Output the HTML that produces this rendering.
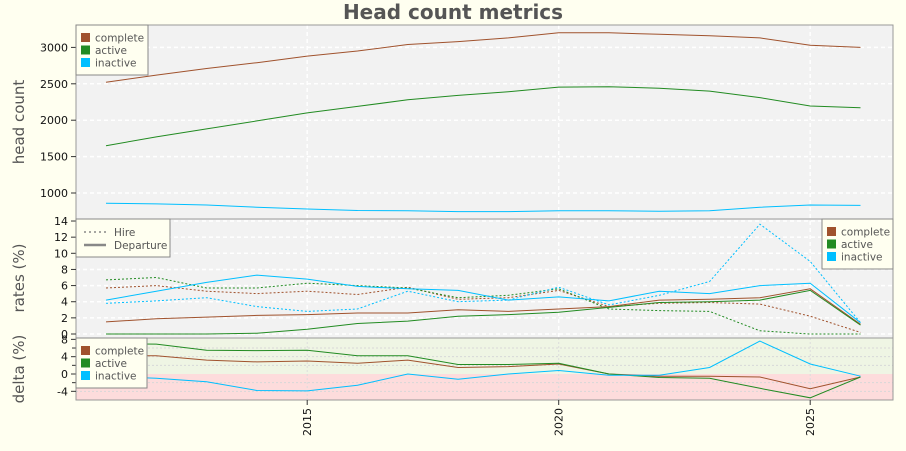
<!DOCTYPE html>
<html><head><meta charset="utf-8"><style>
html,body{margin:0;padding:0;background:#fffff0;}
svg{display:block;font-family:"DejaVu Sans","Liberation Sans",sans-serif;}
</style></head><body>
<svg id="chart" width="906" height="451" viewBox="0 0 906 451">
<rect width="906" height="451" fill="#fffff0"/>
<text x="453" y="19" text-anchor="middle" font-size="20" font-weight="bold" fill="#555">Head count metrics</text>
<g id="g"></g>
</svg>
<script>
const years = [2011,2012,2013,2014,2015,2016,2017,2018,2019,2020,2021,2022,2023,2024,2025,2026];
const headComplete = [2520,2620,2710,2790,2880,2950,3040,3080,3130,3200,3200,3180,3160,3130,3030,3000];
const headActive = [1650,1770,1880,1990,2100,2190,2280,2340,2390,2455,2460,2440,2400,2310,2195,2170];
const headInactive = [860,850,835,805,780,760,755,745,745,755,755,750,755,805,835,830];
const depComplete = [1.5,1.9,2.1,2.3,2.4,2.6,2.6,3.0,2.8,3.1,3.4,4.2,4.3,4.5,5.6,1.2];
const depActive = [0,0,0,0.1,0.6,1.3,1.6,2.2,2.4,2.7,3.3,3.9,4.0,4.2,5.4,1.1];
const depInactive = [4.2,5.3,6.4,7.3,6.8,5.9,5.6,5.4,4.2,4.6,4.1,5.3,5.0,6.0,6.3,1.4];
const hireComplete = [5.7,6.0,5.3,5.0,5.3,4.9,5.8,4.3,4.5,5.4,3.4,3.8,3.9,3.7,2.2,0.2];
const hireActive = [6.7,7.0,5.7,5.7,6.3,6.0,5.7,4.5,4.8,5.6,3.1,2.9,2.8,0.4,0.0,0.0];
const hireInactive = [3.8,4.1,4.5,3.4,2.8,3.1,5.3,4.0,4.2,5.8,3.6,4.8,6.5,13.6,9.0,1.4];
const deltaComplete = [4.2,4.2,3.2,2.8,3.0,2.5,3.2,1.5,1.7,2.3,0,-0.5,-0.5,-0.7,-3.4,-0.7];
const deltaActive = [7.0,6.9,5.5,5.4,5.5,4.2,4.2,2.2,2.2,2.5,0,-0.8,-1.0,-3.3,-5.5,-0.7];
const deltaInactive = [-0.5,-1.0,-1.8,-3.8,-3.9,-2.6,0,-1.2,0,0.8,-0.3,-0.3,1.5,7.6,2.3,-0.5];
const headTicks = [1000,1500,2000,2500,3000];
const rateTicks = [0,2,4,6,8,10,12,14];
const deltaTicks = [-4,0,4,8];
const xTicks = [2015,2020,2025];

const C = {complete:"#a0522d", active:"#228b22", inactive:"#00bfff"};
const L=76, R=893;
const x = yr => 106 + (yr-2011)*50.3;
const yH = v => 193 - (v-1000)*0.0728;
const yR = v => 334 - v*8.07;
const yD = v => 374 - v*4.33;
const NS="http://www.w3.org/2000/svg";
const g=document.getElementById('g');
function el(t,a,p){const e=document.createElementNS(NS,t);for(const k in a)e.setAttribute(k,a[k]);(p||g).appendChild(e);return e;}

// panels
let p;
p=el('rect',{x:L,y:25,width:R-L,height:194,fill:"#f2f2f2"});


p=el('rect',{x:L,y:219,width:R-L,height:119,fill:"#f2f2f2"});


p=el('rect',{x:L,y:338,width:R-L,height:36,fill:"#eff5e4"});


p=el('rect',{x:L,y:374,width:R-L,height:26,fill:"#fddcdc"});



// grids
headTicks.forEach(v=>{const e=el('line',{x1:L,x2:R,y1:yH(v),y2:yH(v),stroke:"#fff","stroke-dasharray":"4,3","stroke-width":1.5});

});
rateTicks.forEach(v=>{const e=el('line',{x1:L,x2:R,y1:yR(v),y2:yR(v),stroke:"#fff","stroke-dasharray":"4,3","stroke-width":1.5});

});
[-4,-2,2,4,6].forEach(v=>{const e=el('line',{x1:L,x2:R,y1:yD(v),y2:yD(v),stroke:"#d8d8d8","stroke-dasharray":"2,2"});

});
xTicks.forEach(v=>{
 const e=el('line',{x1:x(v),x2:x(v),y1:25,y2:338,stroke:"#fff","stroke-dasharray":"4,3","stroke-width":1.5});
 
 
 const f=el('line',{x1:x(v),x2:x(v),y1:338,y2:400,stroke:"#ddd","stroke-dasharray":"2,2"});
 
 
});

function line(xs,ys,yf,color,dash,name,w){
 const pts=xs.map((yr,i)=>x(yr).toFixed(1)+","+yf(ys[i]).toFixed(1)).join(" ");
 const a={points:pts,fill:"none",stroke:color,"stroke-width":w||1};
 if(dash)a["stroke-dasharray"]=dash;
 const e=el('polyline',a);
 
 
}
line(years,headComplete,yH,C.complete,null,'headcount-complete-line');
line(years,headActive,yH,C.active,null,'headcount-active-line');
line(years,headInactive,yH,C.inactive,null,'headcount-inactive-line');
line(years,hireComplete,yR,C.complete,"2,2",'hire-complete-line');
line(years,hireActive,yR,C.active,"2,2",'hire-active-line');
line(years,hireInactive,yR,C.inactive,"2,2",'hire-inactive-line');
line(years,depComplete,yR,C.complete,null,'departure-complete-line');
line(years,depActive,yR,C.active,null,'departure-active-line');
line(years,depInactive,yR,C.inactive,null,'departure-inactive-line');
line(years,deltaComplete,yD,C.complete,null,'delta-complete-line');
line(years,deltaActive,yD,C.active,null,'delta-active-line');
line(years,deltaInactive,yD,C.inactive,null,'delta-inactive-line');

// borders
[[25,194],[219,119],[338,62]].forEach(([y,h])=>{const e=el('rect',{x:L,y:y,width:R-L,height:h,fill:"none",stroke:"#999"});

});

// y ticks
function ticks(vals,yf,name,minor){
 vals.forEach(v=>{
  const t=el('line',{x1:L-5,x2:L,y1:yf(v),y2:yf(v),stroke:"#333"});
  
  
  const tx=el('text',{x:L-8,y:yf(v)+4,"text-anchor":"end","font-size":11,fill:"#111"});
  tx.textContent=v;
  
  
 });
 (minor||[]).forEach(v=>{const t=el('line',{x1:L-4,x2:L,y1:yf(v),y2:yf(v),stroke:"#333"});
  
  });
}
ticks(headTicks,yH,'headcount-y');
ticks(rateTicks,yR,'rates-y');
ticks(deltaTicks,yD,'delta-y',[-2,2,6]);
xTicks.forEach(v=>{
 const t=el('line',{x1:x(v),x2:x(v),y1:400,y2:405,stroke:"#333"});
 
 
 const tx=el('text',{x:0,y:0,transform:`translate(${x(v)+4},${408}) rotate(-90)`,"text-anchor":"end","font-size":11,fill:"#111"});
 tx.textContent=v;
 
 
});

// y titles
[["head count",122,'headcount-y-title'],["rates (%)",278,'rates-y-title'],["delta (%)",369,'delta-y-title']].forEach(([s,y,n])=>{
 const t=el('text',{x:0,y:0,transform:`translate(24,${y}) rotate(-90)`,"text-anchor":"middle","font-size":15,fill:"#555"});
 t.textContent=s;
 
 
});

// legends
function colorLegend(x0,y0,w,name){
 const b=el('rect',{x:x0,y:y0,width:w,height:50,fill:"#fffff0",stroke:"#888"});
 
 
 [["complete",C.complete],["active",C.active],["inactive",C.inactive]].forEach(([s,c],i)=>{
  const r=el('rect',{x:x0+5,y:y0+8+i*12.5,width:9,height:9,fill:c});
  
  
  const t=el('text',{x:x0+19,y:y0+16.5+i*12.5,"font-size":10.5,fill:"#555"});
  t.textContent=s;
  
  
 });
}
colorLegend(L,25,72,'headcount-legend');
colorLegend(822,219,71,'rates-color-legend');
colorLegend(L,338,71,'delta-legend');
const lb=el('rect',{x:L,y:219,width:94,height:38,fill:"#fffff0",stroke:"#888"});


let q=el('line',{x1:L+8,x2:L+30,y1:232,y2:232,stroke:"#888","stroke-dasharray":"2,3","stroke-width":1.5});


q=el('line',{x1:L+8,x2:L+30,y1:245,y2:245,stroke:"#888","stroke-width":2.5});


q=el('text',{x:L+38,y:236,"font-size":10.5,fill:"#555"});q.textContent="Hire";


q=el('text',{x:L+38,y:249,"font-size":10.5,fill:"#555"});q.textContent="Departure";


</script>
</body></html>
